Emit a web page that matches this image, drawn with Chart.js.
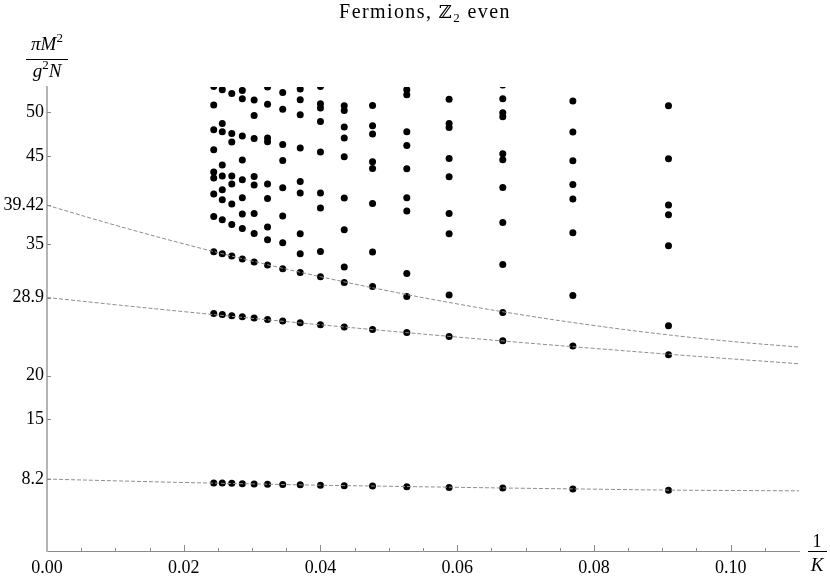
<!DOCTYPE html>
<html>
<head>
<meta charset="utf-8">
<script src="https://cdn.jsdelivr.net/npm/chart.js@4.4.1/dist/chart.umd.min.js"></script>
<style>
    html, body { margin: 0; padding: 0; background: #ffffff; }
    #wrap { width: 830px; height: 581px; }
</style>
</head>
<body>
<div id="wrap"><canvas id="spectrum" width="830" height="581"></canvas></div>
<script>
// x = 1/K for K = 41, 39, ..., 11
const invK = [0.02439, 0.02564, 0.02703, 0.02857, 0.03030, 0.03226, 0.03448, 0.03704,
              0.04000, 0.04348, 0.04762, 0.05263, 0.05882, 0.06667, 0.07692, 0.09091];

// the three states followed by the dashed extrapolations
const lowestState = [7.74, 7.74, 7.71, 7.67, 7.64, 7.60, 7.57, 7.54, 7.50, 7.43, 7.40, 7.33, 7.25, 7.18, 7.08, 6.94];
const secondState = [27.08, 26.97, 26.82, 26.70, 26.56, 26.40, 26.21, 26.02, 25.79, 25.53, 25.26, 24.92, 24.46, 23.97, 23.36, 22.37];
const thirdState = [34.12, 33.89, 33.62, 33.28, 32.94, 32.60, 32.18, 31.76, 31.27, 30.62, 30.16, 29.02, 29.18, 27.20, 29.13, 25.68];

// the rest of the spectrum, one list per K
const higherK41 = [52.97, 50.84, 48.03, 45.75, 43.20, 42.52, 40.69, 38.14];
const higherK39 = [52.59, 48.75, 47.80, 44.00, 42.74, 41.19, 40.05, 37.76];
const higherK37 = [52.17, 47.61, 46.62, 42.74, 41.83, 39.55, 37.23];
const higherK35 = [52.51, 51.56, 47.31, 44.57, 42.33, 40.27, 38.41, 36.78];
const higherK33 = [51.41, 49.66, 47.04, 42.71, 41.72, 38.49, 36.21];
const higherK31 = [52.89, 50.92, 47.08, 46.66, 41.83, 40.20, 36.93, 35.48];
const higherK29 = [52.28, 50.35, 46.35, 44.53, 41.41, 38.18, 35.14];
const higherK27 = [52.66, 51.45, 49.74, 45.94, 42.14, 40.81, 36.17, 33.89];
const higherK25 = [52.97, 50.99, 50.50, 48.98, 45.48, 40.81, 39.10, 34.15];
const higherK23 = [50.76, 50.23, 48.33, 47.08, 44.95, 40.24, 36.63, 32.37];
const higherK21 = [50.80, 48.48, 47.53, 44.38, 43.62, 39.63, 34.08];
const higherK19 = [52.59, 52.02, 47.80, 46.24, 43.58, 40.27, 38.75, 31.65];
const higherK17 = [51.49, 48.75, 48.29, 44.76, 42.67, 38.49, 36.17];
const higherK15 = [53.12, 51.56, 49.97, 49.51, 45.29, 44.61, 41.45, 37.46, 32.67];
const higherK13 = [51.30, 47.76, 44.49, 41.79, 40.12, 36.28];
const higherK11 = [50.76, 44.72, 39.44, 38.34, 34.80];
const higherStates = [higherK41, higherK39, higherK37, higherK35, higherK33, higherK31, higherK29, higherK27,
                      higherK25, higherK23, higherK21, higherK19, higherK17, higherK15, higherK13, higherK11];

// dashed extrapolation curves
const fitX = [0, 0.01, 0.02, 0.03, 0.04, 0.05, 0.06, 0.07, 0.08, 0.09, 0.10, 0.11];
const fitUpper = [39.42, 37.14, 35.02, 33.06, 31.27, 29.64, 28.17, 26.86, 25.71, 24.72, 23.90, 23.25];
const fitMiddle = [28.9, 28.08, 27.29, 26.53, 25.79, 25.08, 24.39, 23.73, 23.10, 22.49, 21.91, 21.35];
const fitLower = [8.2, 8.00, 7.81, 7.65, 7.50, 7.38, 7.26, 7.15, 7.05, 6.95, 6.90, 6.86];

const xTicks = [0, 0.02, 0.04, 0.06, 0.08, 0.10];
const yTicks = [8.2, 15, 20, 28.9, 35, 39.42, 45, 50];

const SERIF = '"Liberation Serif", "Times New Roman", serif';

const dots = [];
invK.forEach((x, i) => {
    dots.push({ x, y: lowestState[i] }, { x, y: secondState[i] }, { x, y: thirdState[i] });
    higherStates[i].forEach((y) => dots.push({ x, y }));
});

const curve = (ys) => fitX.map((x, i) => ({ x, y: ys[i] }));

const dashed = {
    showLine: true,
    borderColor: '#8e8e8e',
    borderWidth: 1,
    borderDash: [4, 2],
    pointRadius: 0,
    pointHoverRadius: 0,
    tension: 0.4,
    fill: false,
    order: 0,
    clip: 0,
};

// draws a run of text pieces (different fonts / offsets) centred on cx
function drawRun(ctx, parts, cx, baseline, spacing = '0px') {
    ctx.letterSpacing = spacing;
    let total = 0;
    parts.forEach((p) => {
        ctx.font = p.font;
        p.w = ctx.measureText(p.t).width;
        total += p.w;
    });
    let x = cx - total / 2;
    parts.forEach((p) => {
        ctx.font = p.font;
        ctx.fillText(p.t, x, baseline + (p.dy || 0));
        x += p.w;
    });
    ctx.letterSpacing = '0px';
}

const decorations = {
    id: 'decorations',
    afterDraw(chart) {
        const { ctx, chartArea } = chart;
        const xs = chart.scales.x;
        const ys = chart.scales.y;

        ctx.save();
        // ticks pointing into the plot
        ctx.strokeStyle = '#8a8a8a';
        ctx.lineWidth = 1;
        ctx.beginPath();
        for (let n = 1; n <= 21; n++) {
            const v = n * 0.005;
            const px = Math.round(xs.getPixelForValue(v)) + 0.5;
            const len = n % 4 === 0 ? 6 : 3;
            ctx.moveTo(px, chartArea.bottom);
            ctx.lineTo(px, chartArea.bottom - len);
        }
        yTicks.forEach((v) => {
            const py = Math.round(ys.getPixelForValue(v)) + 0.5;
            ctx.moveTo(chartArea.left, py);
            ctx.lineTo(chartArea.left + 4, py);
        });
        ctx.stroke();

        ctx.fillStyle = '#000';
        ctx.textAlign = 'left';
        ctx.textBaseline = 'alphabetic';

        // title
        drawRun(ctx, [
            { t: 'Fermions, ', font: '20px ' + SERIF },
            { t: 'ℤ', font: '18px "DejaVu Serif", serif' },
            { t: '2', font: '13px ' + SERIF, dy: 4 },
            { t: ' even', font: '20px ' + SERIF },
        ], 425, 18, '1.4px');

        // y label: pi M^2 / g^2 N
        drawRun(ctx, [
            { t: 'πM', font: 'italic 19px ' + SERIF },
            { t: '2', font: '13px ' + SERIF, dy: -8 },
        ], 47, 50);
        ctx.fillRect(26, 59, 42, 1);
        drawRun(ctx, [
            { t: 'g', font: 'italic 19px ' + SERIF },
            { t: '2', font: '13px ' + SERIF, dy: -8 },
            { t: 'N', font: 'italic 19px ' + SERIF },
        ], 47, 77);

        // x label: 1 / K
        drawRun(ctx, [{ t: '1', font: '18px ' + SERIF }], 817, 547);
        ctx.fillRect(808, 551, 19, 1);
        drawRun(ctx, [{ t: 'K', font: 'italic 19px ' + SERIF }], 817, 571);
        ctx.restore();
    },
};

new Chart(document.getElementById('spectrum'), {
    type: 'scatter',
    data: {
        datasets: [
            { ...dashed, data: curve(fitUpper) },
            { ...dashed, data: curve(fitMiddle) },
            { ...dashed, data: curve(fitLower) },
            {
                data: dots,
                pointRadius: 3.5,
                pointHoverRadius: 3.5,
                pointBackgroundColor: '#000000',
                pointBorderWidth: 0,
                order: 1,
                clip: 0,
            },
        ],
    },
    options: {
        responsive: false,
        animation: false,
        devicePixelRatio: 1,
        layout: { padding: { top: 87, right: 31, left: 0, bottom: 0 } },
        plugins: {
            legend: { display: false },
            title: { display: false },
            tooltip: { enabled: false },
        },
        scales: {
            x: {
                type: 'linear',
                min: 0,
                max: 0.11,
                afterBuildTicks: (scale) => {
                    scale.ticks = xTicks.map((value) => ({ value }));
                },
                afterFit: (scale) => {
                    scale.height = 30;
                },
                grid: { display: false, drawTicks: false },
                border: { display: true, color: '#8a8a8a', width: 1 },
                ticks: {
                    color: '#000',
                    font: { family: SERIF, size: 18 },
                    padding: 6,
                    autoSkip: false,
                    maxRotation: 0,
                    callback: (value) => Number(value).toFixed(2),
                },
            },
            y: {
                type: 'linear',
                min: 0,
                max: 52.9,
                afterBuildTicks: (scale) => {
                    scale.ticks = yTicks.map((value) => ({ value }));
                },
                afterFit: (scale) => {
                    scale.width = 47;
                },
                grid: { display: false, drawTicks: false },
                border: { display: true, color: '#b4b4b4', width: 2 },
                ticks: {
                    color: '#000',
                    font: { family: SERIF, size: 18 },
                    padding: 3,
                    autoSkip: false,
                    callback: (value) => String(value),
                },
            },
        },
    },
    plugins: [decorations],
});
</script>
</body>
</html>
